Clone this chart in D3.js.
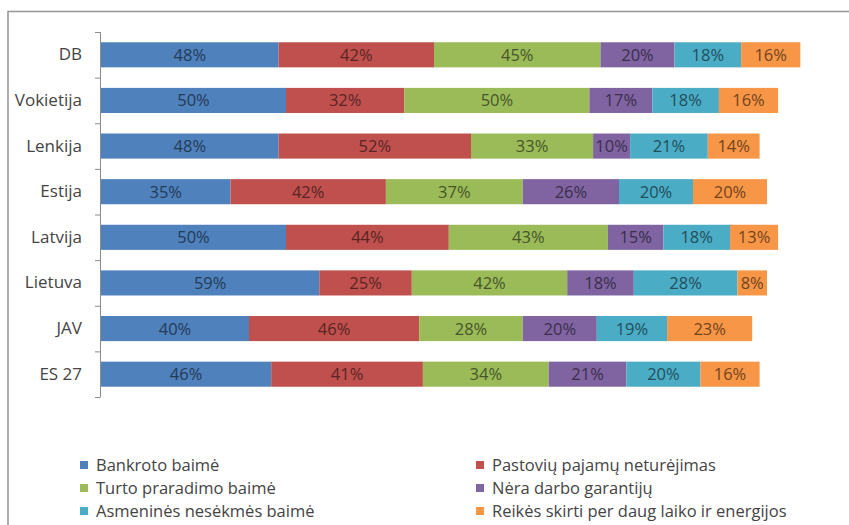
<!DOCTYPE html>
<html>
<head>
<meta charset="utf-8">
<script src="https://cdn.jsdelivr.net/npm/d3@7"></script>
<style>
  html, body { margin: 0; padding: 0; background: #fff; }
  svg { display: block; }
  text { font-family: "Open Sans", Lato, sans-serif; font-weight: 500; }
</style>
</head>
<body>
<svg id="chart" width="849" height="525"></svg>
<script>
// Countries, top to bottom
const categories = ["DB", "Vokietija", "Lenkija", "Estija", "Latvija", "Lietuva", "JAV", "ES 27"];

// Series names (legend order)
const seriesNames = [
  "Bankroto baimė",
  "Pastovių pajamų neturėjimas",
  "Turto praradimo baimė",
  "Nėra darbo garantijų",
  "Asmeninės nesėkmės baimė",
  "Reikės skirti per daug laiko ir energijos"
];

// Percent values per series, one per country
const bankroto   = [48, 50, 48, 35, 50, 59, 40, 46];
const pajamu     = [42, 32, 52, 42, 44, 25, 46, 41];
const turto      = [45, 50, 33, 37, 43, 42, 28, 34];
const darbo      = [20, 17, 10, 26, 15, 18, 20, 21];
const asmenines  = [18, 18, 21, 20, 18, 28, 19, 20];
const laiko      = [16, 16, 14, 20, 13,  8, 23, 16];

const seriesValues = [bankroto, pajamu, turto, darbo, asmenines, laiko];
const colors = ["#4F81BD", "#C0504D", "#9BBB59", "#8064A2", "#4BACC6", "#F79646"];

const svg = d3.select("#chart");

// Outer chart frame
svg.append("rect")
  .attr("x", 8).attr("y", 11.5)
  .attr("width", 900).attr("height", 600)
  .attr("fill", "#fff")
  .attr("stroke", "#9a9a9a")
  .attr("stroke-width", 1.6);

// Build stacked rows
const rows = categories.map((c, i) => {
  const r = { category: c };
  seriesNames.forEach((s, j) => { r[s] = seriesValues[j][i]; });
  return r;
});
const stack = d3.stack().keys(seriesNames);
const layers = stack(rows);

const x = d3.scaleLinear().domain([0, 200]).range([101, 841]);
const y = d3.scaleBand().domain(categories).range([32, 397]).paddingInner(0.45).paddingOuter(0.225);

const color = d3.scaleOrdinal().domain(seriesNames).range(colors);

// Bars
const g = svg.append("g");
layers.forEach(layer => {
  const base = color(layer.key);
  const lg = g.append("g");
  lg.selectAll("rect")
    .data(layer)
    .join("rect")
    .attr("x", d => x(d[0]))
    .attr("y", d => y(d.data.category))
    .attr("width", d => x(d[1]) - x(d[0]))
    .attr("height", y.bandwidth())
    .attr("fill", base);
  lg.selectAll("text")
    .data(layer)
    .join("text")
    .attr("x", d => (x(d[0]) + x(d[1])) / 2)
    .attr("y", d => y(d.data.category) + y.bandwidth() / 2)
    .attr("dy", "0.36em")
    .attr("text-anchor", "middle")
    .attr("font-size", 16.5)
    .attr("fill", d3.color(base).darker(2.2).formatHex())
    .text(d => (d[1] - d[0]) + "%");
});

// Category axis: line with ticks at band boundaries
const axisG = svg.append("g");
const step = y.step();
const bounds = d3.range(categories.length + 1).map(i => y.range()[0] + i * step);
axisG.append("line")
  .attr("x1", 100.5).attr("x2", 100.5)
  .attr("y1", bounds[0]).attr("y2", bounds[bounds.length - 1])
  .attr("stroke", "#8c8c8c");
axisG.selectAll("line.tick")
  .data(bounds)
  .join("line")
  .attr("class", "tick")
  .attr("x1", 95).attr("x2", 100.5)
  .attr("y1", d => d + 0.5).attr("y2", d => d + 0.5)
  .attr("stroke", "#8c8c8c");

const labelAxis = d3.axisLeft(y).tickSize(0).tickPadding(18);
const la = svg.append("g").attr("transform", "translate(100,0)").call(labelAxis);
la.select(".domain").remove();
la.selectAll("text")
  .attr("font-size", 17)
  .attr("font-family", "'Open Sans', Lato, sans-serif")
  .attr("font-weight", 500)
  .attr("fill", "#444");

// Legend, two columns
const legendCols = [80, 476];
const legendRows = [465, 488, 511];
const legend = svg.append("g");
seriesNames.forEach((s, i) => {
  const lx = legendCols[i % 2];
  const ly = legendRows[Math.floor(i / 2)];
  legend.append("rect")
    .attr("x", lx).attr("y", ly - 4)
    .attr("width", 8).attr("height", 8)
    .attr("fill", colors[i]);
  legend.append("text")
    .attr("x", lx + 16).attr("y", ly)
    .attr("dy", "0.36em")
    .attr("font-size", 16.5)
    .attr("fill", "#444")
    .text(s);
});
</script>
</body>
</html>
